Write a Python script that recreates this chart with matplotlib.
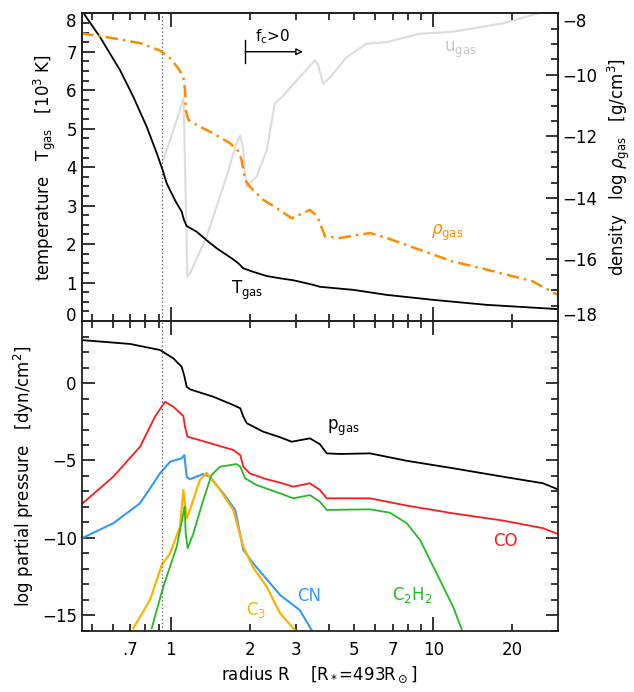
import matplotlib
matplotlib.use("Agg")
import matplotlib.pyplot as plt
from matplotlib.ticker import FixedLocator, FuncFormatter, MultipleLocator, NullFormatter

plt.rcParams['font.family'] = ['DejaVu Sans']
plt.rcParams['font.size'] = 12

# === DATA ===
# top panel: gas temperature [10^3 K]
t_r = [0.455, 0.471, 0.538, 0.641, 0.72, 0.81, 0.885, 0.932, 0.965, 1.038, 1.101, 1.124,
       1.15, 1.256, 1.37, 1.497, 1.707, 1.81, 1.89, 2.06, 2.32, 2.61, 2.93, 3.49, 3.70,
       4.96, 6.64, 10.0, 16.0, 29.8]
t_gas = [8.15, 7.95, 7.38, 6.52, 5.83, 5.05, 4.36, 3.92, 3.58, 3.14, 2.84, 2.62,
         2.47, 2.32, 2.10, 1.89, 1.63, 1.50, 1.37, 1.28, 1.17, 1.11, 1.06, 0.94, 0.89,
         0.81, 0.68, 0.55, 0.42, 0.31]

# top panel: log gas density [g/cm^3]
rho_r = [0.455, 0.604, 0.764, 0.91, 0.994, 1.069, 1.117, 1.133, 1.14, 1.167, 1.256, 1.45,
         1.68, 1.81, 1.86, 1.92, 2.0, 2.25, 2.53, 2.89, 3.39, 3.62, 3.87, 4.41, 5.74, 6.64,
         8.91, 11.9, 16.0, 23.9, 29.8]
log_rho = [-8.65, -8.81, -8.97, -9.21, -9.46, -9.79, -10.06, -10.49, -11.14, -11.46, -11.63,
           -11.9, -12.22, -12.49, -12.76, -13.41, -13.63, -14.06, -14.33, -14.66, -14.39,
           -14.6, -15.25, -15.30, -15.14, -15.30, -15.69, -16.07, -16.33, -16.71, -17.15]

# top panel: gas velocity (arbitrary scale, grey)
u_r = [0.932, 1.054, 1.117, 1.121, 1.157, 1.184, 1.37, 1.63, 1.78, 1.84, 1.89, 1.94, 2.12,
       2.32, 2.49, 2.69, 3.10, 3.55, 3.65, 3.70, 3.81, 4.05, 4.68, 5.57, 6.64, 8.91, 11.9,
       18.5, 25.1, 30.0]
u_gas = [4.14, 5.22, 5.78, 5.6, 1.15, 1.24, 2.19, 3.75, 4.62, 4.83, 4.44, 3.49, 3.75,
         4.44, 5.65, 5.87, 6.34, 6.78, 6.65, 6.47, 6.17, 6.34, 6.86, 7.21, 7.25, 7.47, 7.52,
         7.74, 8.0, 8.1]

# bottom panel: log partial pressures [dyn/cm^2]
p_r = [0.458, 0.70, 0.91, 1.023, 1.10, 1.124, 1.15, 1.184, 1.45, 1.73, 1.84, 1.89, 1.95,
       2.25, 2.61, 2.89, 3.39, 3.70, 3.93, 4.41, 5.74, 7.93, 11.9, 18.5, 26.2, 29.8]
p_gas = [2.77, 2.52, 2.13, 1.59, 1.05, 0.52, -0.24, -0.41, -0.88, -1.42, -1.63, -2.17, -2.60,
         -3.14, -3.50, -3.79, -3.57, -3.95, -4.54, -4.58, -4.54, -5.02, -5.5, -6.05, -6.47,
         -6.86]

co_r = [0.458, 0.604, 0.764, 0.871, 0.951, 1.023, 1.117, 1.133, 1.157, 1.256, 1.45, 1.73,
        1.84, 1.89, 2.0, 2.32, 2.61, 2.93, 3.39, 3.70, 3.93, 4.68, 5.74, 7.93, 11.9, 18.5,
        26.2, 29.8]
p_co = [-7.81, -6.05, -4.11, -2.17, -1.21, -1.53, -2.13, -2.82, -3.46, -3.63, -3.94, -4.32,
        -4.65, -5.4, -5.83, -6.21, -6.43, -6.69, -6.47, -6.9, -7.44, -7.44, -7.44, -7.91,
        -8.41, -8.88, -9.37, -9.74]

cn_r = [0.458, 0.604, 0.764, 0.91, 0.994, 1.10, 1.127, 1.15, 1.184, 1.33, 1.41, 1.585,
        1.76, 1.89, 2.06, 2.61, 2.76, 3.10, 3.44]
p_cn = [-10.02, -9.05, -7.76, -5.83, -5.08, -4.86, -4.65, -6.05, -6.21, -5.87, -6.05, -7.12,
        -8.19, -10.77, -11.63, -13.68, -14.0, -14.65, -15.94]

c3_r = [0.72, 0.834, 0.924, 0.994, 1.085, 1.117, 1.15, 1.184, 1.29, 1.37, 1.54, 1.73, 1.89,
        2.06, 2.32, 2.61, 2.97]
p_c3 = [-15.83, -14.0, -11.74, -10.99, -9.27, -6.9, -8.73, -8.19, -6.26, -5.79, -6.9,
        -8.19, -10.56, -11.9, -13.14, -14.86, -15.94]

c2h2_r = [0.846, 0.937, 1.054, 1.117, 1.13, 1.14, 1.16, 1.22, 1.33, 1.43, 1.54, 1.78,
          1.84, 1.92, 2.12, 2.61, 2.93, 3.39, 3.70, 3.93, 5.74, 6.84, 7.93, 8.91, 11.9, 12.9]
p_c2h2 = [-15.83, -13.14, -10.56, -8.41, -7.98, -9.7, -10.66, -9.7, -7.55, -5.94, -5.40,
          -5.23, -5.40, -6.15, -6.58, -7.12, -7.44, -7.23, -7.66, -8.19, -8.15, -8.37,
          -9.05, -10.13, -14.43, -16.0]

r_photo = 0.93           # dotted line
fc_start, fc_end = 1.92, 3.19   # f_c>0 arrow

x_labeled = [0.7, 2, 3, 5, 7, 20]
x_minor = [0.5, 0.6, 0.7, 0.8, 0.9, 2, 3, 4, 5, 6, 7, 8, 9, 20, 30]
t_ticks = [0, 1, 2, 3, 4, 5, 6, 7, 8]
rho_ticks = [-18, -16, -14, -12, -10, -8]

ORANGE = '#ff8c00'
RED = '#ff1a1a'
BLUE = '#3399ff'
GREEN = '#22bb22'
YELLOW = '#ffb300'
GREY = '#dcdcdc'

XMIN, XMAX = 0.458, 29.8


def fmt_minor(v, pos):
    for lab in x_labeled:
        if abs(v - lab) < 1e-6:
            return '.7' if lab == 0.7 else str(int(lab))
    return ''


def style_xaxis(ax, labels):
    ax.set_xscale('log')
    ax.set_xlim(XMIN, XMAX)
    ax.xaxis.set_major_locator(FixedLocator([1, 10]))
    ax.xaxis.set_minor_locator(FixedLocator(x_minor))
    if labels:
        ax.xaxis.set_major_formatter(FuncFormatter(lambda v, p: str(int(v))))
        ax.xaxis.set_minor_formatter(FuncFormatter(fmt_minor))
    else:
        ax.xaxis.set_major_formatter(NullFormatter())
        ax.xaxis.set_minor_formatter(NullFormatter())
    ax.tick_params(axis='x', which='both', direction='in', top=True, bottom=True, pad=7)
    ax.tick_params(axis='x', which='major', length=10, width=1.1)
    ax.tick_params(axis='x', which='minor', length=5, width=1.1)


def shift_end_labels(axis, lo, hi):
    # IDL style: end labels pulled inside the axis range
    for loc, tick in zip(axis.get_majorticklocs(), axis.get_major_ticks()):
        if loc == lo:
            tick.label1.set_va('baseline')
            tick.label2.set_va('baseline')
        elif loc == hi:
            tick.label1.set_va('top')
            tick.label2.set_va('top')


fig = plt.figure(figsize=(6.34, 6.92), dpi=100)
ax1 = fig.add_axes([0.1289, 0.5361, 0.7508, 0.4447])
ax2 = fig.add_axes([0.1289, 0.0882, 0.7508, 0.4479])

for ax in (ax1, ax2):
    for s in ax.spines.values():
        s.set_linewidth(1.3)
        s.set_color('#222222')

# === TOP PANEL ===
ax1.plot(u_r, u_gas, color=GREY, lw=1.5, zorder=1)
ax1.plot(t_r, t_gas, color='black', lw=1.3, zorder=3)
ax1.axvline(r_photo, color='#555555', lw=0.9, ls=(0, (1, 2)))
ax1.set_ylim(0, 8)
style_xaxis(ax1, labels=False)
ax1.yaxis.set_major_locator(FixedLocator(t_ticks))
ax1.yaxis.set_minor_locator(MultipleLocator(0.25))
ax1.tick_params(axis='y', which='both', direction='in', left=True, right=False)
ax1.tick_params(axis='y', which='major', length=9, width=1.1)
ax1.tick_params(axis='y', which='minor', length=5, width=1.1)
ax1.set_ylabel(r'temperature   $\mathrm{T_{gas}}$   [10$^3$ K]', labelpad=6)

ax1r = ax1.twinx()
ax1r.plot(rho_r, log_rho, color=ORANGE, lw=1.8, ls=(0, (5, 2, 1, 2)), zorder=2)
ax1r.set_ylim(-18, -8)
ax1r.set_xlim(XMIN, XMAX)
ax1r.yaxis.set_major_locator(FixedLocator(rho_ticks))
ax1r.yaxis.set_minor_locator(MultipleLocator(0.5))
ax1r.tick_params(axis='y', which='both', direction='in', left=False, right=True)
ax1r.tick_params(axis='y', which='major', length=9, width=1.1)
ax1r.tick_params(axis='y', which='minor', length=5, width=1.1)
ax1r.set_ylabel(r'density   log $\rho_\mathrm{gas}$   [g/cm$^3$]', labelpad=6)
for s in ax1r.spines.values():
    s.set_linewidth(1.3)
    s.set_color('#222222')

ax1.text(0.347, 0.10, r'$\mathrm{T_{gas}}$', transform=ax1.transAxes, ha='center', va='center')
ax1.text(0.768, 0.286, r'$\rho_\mathrm{gas}$', transform=ax1.transAxes, ha='center', va='center',
         color=ORANGE)
ax1.text(0.795, 0.881, r'$\mathrm{u_{gas}}$', transform=ax1.transAxes, ha='center', va='center',
         color='#c8c8c8')
ax1.text(0.40, 0.925, r'$\mathrm{f_c}$>0', transform=ax1.transAxes, ha='center', va='center',
         fontsize=11)
ax1.annotate('', xy=(fc_end, 0.875), xytext=(fc_start, 0.875),
             xycoords=('data', 'axes fraction'),
             arrowprops=dict(arrowstyle='-|>', color='black', lw=1.0, fc='white',
                             mutation_scale=10, shrinkA=0, shrinkB=0))
ax1.plot([fc_start, fc_start], [0.839, 0.913], color='black', lw=1.0,
         transform=ax1.get_xaxis_transform())

# === BOTTOM PANEL ===
ax2.plot(p_r, p_gas, color='black', lw=1.3)
ax2.plot(co_r, p_co, color=RED, lw=1.3)
ax2.plot(cn_r, p_cn, color=BLUE, lw=1.5)
ax2.plot(c3_r, p_c3, color=YELLOW, lw=1.6)
ax2.plot(c2h2_r, p_c2h2, color=GREEN, lw=1.3)
ax2.axvline(r_photo, color='#555555', lw=0.9, ls=(0, (1, 2)))
ax2.set_ylim(-16, 4)
style_xaxis(ax2, labels=True)
ax2.yaxis.set_major_locator(FixedLocator([-15, -10, -5, 0]))
ax2.yaxis.set_minor_locator(MultipleLocator(1))
ax2.tick_params(axis='y', which='both', direction='in', left=True, right=True)
ax2.tick_params(axis='y', which='major', length=9, width=1.1)
ax2.tick_params(axis='y', which='minor', length=5, width=1.1)
ax2.set_ylabel(r'log partial pressure   [dyn/cm$^2$]', labelpad=4)
ax2.set_xlabel(r'radius R    [R$_*$=493R$_\odot$]', labelpad=4)

ax2.text(0.549, 0.655, r'$\mathrm{p_{gas}}$', transform=ax2.transAxes, ha='center', va='center')
ax2.text(0.889, 0.290, 'CO', transform=ax2.transAxes, ha='center', va='center', color=RED)
ax2.text(0.694, 0.116, r'$\mathrm{C_2H_2}$', transform=ax2.transAxes, ha='center', va='center',
         color=GREEN)
ax2.text(0.478, 0.113, 'CN', transform=ax2.transAxes, ha='center', va='center', color=BLUE)
ax2.text(0.366, 0.068, r'$\mathrm{C_3}$', transform=ax2.transAxes, ha='center', va='center',
         color=YELLOW)

fig.canvas.draw()
shift_end_labels(ax1.yaxis, 0, 8)
shift_end_labels(ax1r.yaxis, -18, -8)

fig.savefig('out.png', dpi=100)
